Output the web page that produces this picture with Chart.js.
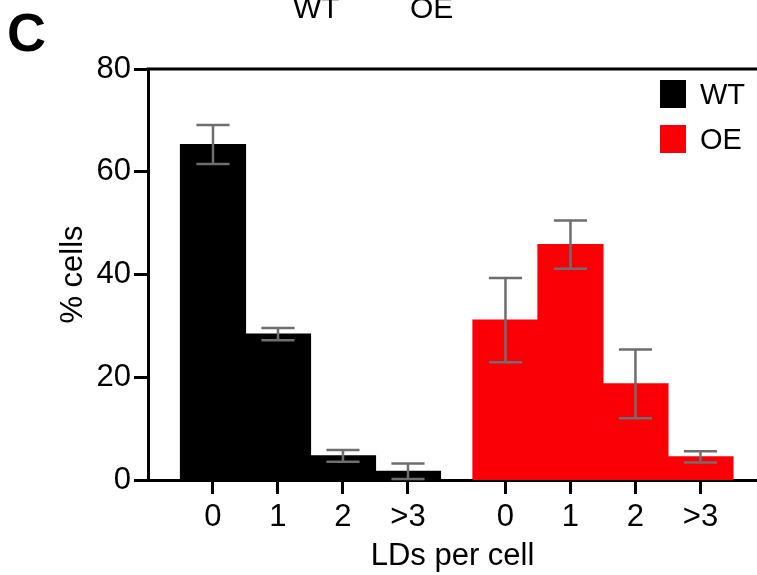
<!DOCTYPE html>
<html>
<head>
<meta charset="utf-8">
<script src="https://cdn.jsdelivr.net/npm/chart.js@4/dist/chart.umd.min.js"></script>
<style>
  html, body { margin: 0; padding: 0; background: #fff; }
  .wrap { position: relative; width: 757px; height: 575px; overflow: hidden; font-family: "Liberation Sans", Arial, sans-serif; color: #000; }
  canvas { position: absolute; left: 0; top: 0; }
  .panel { position: absolute; left: 7px; top: 5px; font-size: 54px; font-weight: bold; line-height: 1; }
  .head { position: absolute; top: -7px; font-size: 30px; line-height: 1; }
  .legend { position: absolute; left: 660px; top: 80px; }
  .legend-row { display: flex; align-items: center; height: 28px; margin-bottom: 17px; font-size: 29px; }
  .legend-row span.box { width: 26px; height: 28px; margin-right: 14px; }
</style>
</head>
<body>
<div class="wrap">
  <canvas id="ldChart" width="757" height="575"></canvas>
  <div class="panel">C</div>
  <div class="head" style="left:293px">WT</div>
  <div class="head" style="left:410px">OE</div>
  <div class="legend" id="legend"></div>
</div>
<script>
// ── data ──
const categories = ['0', '1', '2', '>3'];
const wtPos = [0, 1, 2, 3];
const oePos = [4.5, 5.5, 6.5, 7.5];
const wtMean = [65.3, 28.4, 4.7, 1.7];
const wtErr = [3.8, 1.2, 1.15, 1.5];
const oeMean = [31.1, 45.8, 18.7, 4.5];
const oeErr = [8.2, 4.7, 6.7, 1.1];
const yTicks = [0, 20, 40, 60, 80];

const FONT = '"Liberation Sans", Arial, sans-serif';
const WT_COLOR = '#000000';
const OE_COLOR = '#fa0006';

const allPos = wtPos.concat(oePos);
const allLabels = categories.concat(categories);

function toPoints(xs, ys) { return xs.map((x, i) => ({ x, y: ys[i] })); }

// ── error bars (mean ± err), drawn after the bars ──
const errorBars = {
  id: 'errorBars',
  afterDatasetsDraw(chart) {
    const { ctx, scales: { y } } = chart;
    ctx.save();
    ctx.strokeStyle = '#6e6e6e';
    ctx.lineWidth = 2.5;
    chart.data.datasets.forEach((ds, i) => {
      const meta = chart.getDatasetMeta(i);
      meta.data.forEach((bar, j) => {
        const m = ds.data[j].y, e = ds.errors[j];
        const yTop = y.getPixelForValue(m + e);
        const yBot = y.getPixelForValue(Math.max(m - e, 0));
        const half = bar.width * 0.255;
        ctx.beginPath();
        ctx.moveTo(bar.x, yTop); ctx.lineTo(bar.x, yBot);
        ctx.moveTo(bar.x - half, yTop); ctx.lineTo(bar.x + half, yTop);
        ctx.moveTo(bar.x - half, yBot); ctx.lineTo(bar.x + half, yBot);
        ctx.stroke();
      });
    });
    ctx.restore();
  },
  afterDraw(chart) {
    // top frame line
    const { ctx, chartArea } = chart;
    ctx.save();
    ctx.strokeStyle = '#000';
    ctx.lineWidth = 3;
    ctx.beginPath();
    ctx.moveTo(chartArea.left - 1.5, chartArea.top);
    ctx.lineTo(chartArea.right, chartArea.top);
    ctx.stroke();
    ctx.restore();
  }
};

const axisFont = { family: FONT, size: 31 };

const chart = new Chart(document.getElementById('ldChart'), {
  type: 'bar',
  data: {
    datasets: [
      { label: 'WT', data: toPoints(wtPos, wtMean), errors: wtErr, backgroundColor: WT_COLOR },
      { label: 'OE', data: toPoints(oePos, oeMean), errors: oeErr, backgroundColor: OE_COLOR }
    ]
  },
  options: {
    responsive: false,
    animation: false,
    devicePixelRatio: 1,
    grouped: false,
    categoryPercentage: 1,
    barPercentage: 1,
    borderWidth: 0,
    inflateAmount: 0.6,
    layout: { padding: { top: 69, left: 0, right: 0, bottom: 0 } },
    plugins: { legend: { display: false }, tooltip: { enabled: false } },
    scales: {
      x: {
        type: 'linear',
        offset: false,
        min: -1,
        max: 8.37,
        afterBuildTicks: s => { s.ticks = allPos.map(v => ({ value: v })); },
        afterFit: s => { s.height = 95; },
        ticks: {
          font: axisFont, color: '#000', padding: 5, maxRotation: 0, autoSkip: false,
          callback: (v, i) => allLabels[i]
        },
        grid: { offset: false, drawOnChartArea: false, drawTicks: true, tickLength: 14, tickWidth: 3, tickColor: '#000' },
        border: { display: true, color: '#000', width: 3 },
        title: { display: true, text: 'LDs per cell', font: axisFont, color: '#000', padding: { top: 0, bottom: 0 } }
      },
      y: {
        min: 0,
        max: 80,
        afterBuildTicks: s => { s.ticks = yTicks.map(v => ({ value: v })); },
        afterFit: s => { s.width = 148; },
        ticks: { font: axisFont, color: '#000', padding: 3 },
        grid: { drawOnChartArea: false, drawTicks: true, tickLength: 14, tickWidth: 3, tickColor: '#000' },
        border: { display: true, color: '#000', width: 3 },
        title: { display: true, text: '% cells', font: axisFont, color: '#000', padding: { top: 55, bottom: 0 } }
      }
    }
  },
  plugins: [errorBars]
});

// ── legend ──
document.getElementById('legend').innerHTML = chart.data.datasets.map(ds =>
  `<div class="legend-row"><span class="box" style="background:${ds.backgroundColor}"></span>${ds.label}</div>`
).join('');
</script>
</body>
</html>
